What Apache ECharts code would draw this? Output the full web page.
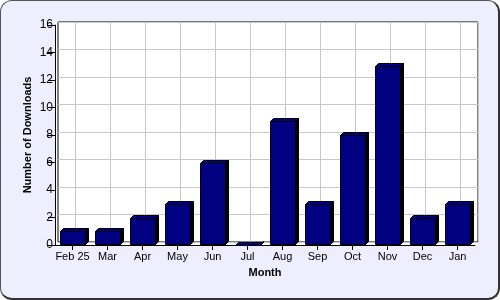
<!DOCTYPE html>
<html>
<head>
<meta charset="utf-8">
<script src="https://cdn.jsdelivr.net/npm/echarts@6/dist/echarts.min.js"></script>
<style>
html,body{margin:0;padding:0;background:#fff;}
#wrap{position:absolute;left:0;top:0;width:500px;height:300px;box-sizing:border-box;background:#eeeeff;
 border:1px solid #555;border-right:2px solid #333;border-bottom:2px solid #333;border-radius:12px;}
#chart{position:absolute;left:0;top:0;width:500px;height:300px;}
</style>
</head>
<body>
<div id="wrap"></div>
<div id="chart"></div>
<script>
const categories = ['Feb 25','Mar','Apr','May','Jun','Jul','Aug','Sep','Oct','Nov','Dec','Jan'];
const downloads = [1,1,2,3,6,0,9,3,8,13,2,3];
const yMin = 0, yMax = 16, yStep = 2;

// half-category slots for back-wall vertical grid lines (through category centres)
const halfSlots = [];
categories.forEach(c => { halfSlots.push(c + 'a'); halfSlots.push(c + 'b'); });

const font = 'Liberation Sans, Arial, sans-serif';
const DEPTH = 3;

const chart = echarts.init(document.getElementById('chart'), null, {renderer:'canvas'});
chart.setOption({
  backgroundColor: 'transparent',
  animation: false,
  grid: [
    {left:55, right:22, top:22, bottom:55, show:true, backgroundColor:'#fff', borderWidth:0},
    {left:58, right:22, top:22, bottom:58, show:true, backgroundColor:'#fff', borderColor:'#000', borderWidth:1},
    {left:55, right:25, top:25, bottom:55, show:false}
  ],
  xAxis: [
    {gridIndex:0, type:'category', data:categories, show:false},
    {gridIndex:1, type:'category', data:halfSlots, boundaryGap:true,
     axisLine:{show:false}, axisTick:{show:false}, axisLabel:{show:false},
     splitLine:{show:true, interval:(i)=> i % 2 === 1, lineStyle:{color:'#c8c8c8', width:1}}},
    {gridIndex:2, type:'category', data:categories, boundaryGap:true,
     name:'Month', nameLocation:'middle', nameGap:22, nameMoveOverlap:false,
     nameTextStyle:{fontFamily:font, fontSize:11, fontWeight:'bold', color:'#000'},
     axisLine:{show:true, lineStyle:{color:'#000', width:1}},
     axisTick:{show:true, alignWithLabel:true, length:5, lineStyle:{color:'#000'}},
     axisLabel:{fontFamily:font, fontSize:11, color:'#000', margin:6, interval:0},
     splitLine:{show:false}}
  ],
  yAxis: [
    {gridIndex:0, type:'value', min:yMin, max:yMax, interval:yStep, show:false},
    {gridIndex:1, type:'value', min:yMin, max:yMax, interval:yStep,
     axisLine:{show:false}, axisTick:{show:false}, axisLabel:{show:false},
     splitLine:{show:true, lineStyle:{color:'#c8c8c8', width:1}}},
    {gridIndex:2, type:'value', min:yMin, max:yMax, interval:yStep,
     name:'Number of Downloads', nameLocation:'middle', nameGap:22, nameMoveOverlap:false,
     nameTextStyle:{fontFamily:font, fontSize:11, fontWeight:'bold', color:'#000'},
     axisLine:{show:true, lineStyle:{color:'#000', width:1}},
     axisTick:{show:true, length:7, lineStyle:{color:'#000'}},
     axisLabel:{fontFamily:font, fontSize:12, color:'#000', margin:2},
     splitLine:{show:false}}
  ],
  series: [{
    type:'custom',
    xAxisIndex:2, yAxisIndex:2,
    data: downloads.map((v,i)=>[i,v]),
    encode:{x:0, y:1},
    renderItem: function(params, api){
      const idx = api.value(0), v = api.value(1);
      const top = api.coord([idx, v]);
      const base = api.coord([idx, 0]);
      const bw = api.size([1,0])[0] * 0.714;
      const l = Math.round(top[0] - bw/2) + 0.5;
      const r = Math.round(top[0] + bw/2) + 0.5;
      const t = Math.round(top[1]) + 0.5;
      const b = Math.round(base[1]) - 0.5;
      const d = DEPTH;
      return {
        type:'group',
        children:[
          {type:'polygon', shape:{points:[[r,t],[r+d,t-d],[r+d,b-d],[r,b]]},
           style:{fill:'#000000', stroke:'#000', lineWidth:1}},
          {type:'polygon', shape:{points:[[l,t],[l+d,t-d],[r+d,t-d],[r,t]]},
           style:{fill:'#000080', stroke:'#000', lineWidth:1}},
          {type:'rect', shape:{x:l, y:t, width:r-l, height:Math.max(0,b-t)},
           style:{fill:'#000080', stroke:'#000', lineWidth:1}}
        ]
      };
    }
  }]
});
</script>
</body>
</html>
